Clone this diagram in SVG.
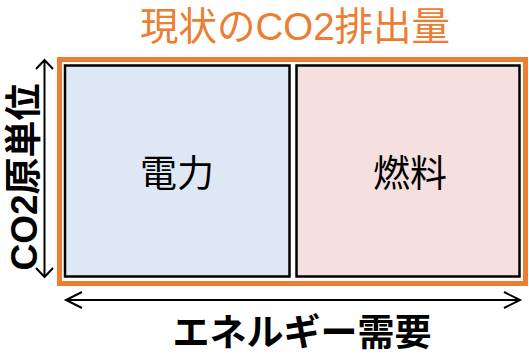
<svg xmlns="http://www.w3.org/2000/svg" width="529" height="354" viewBox="0 0 529 354">
<defs>
<style>
.t{font-family:"Liberation Sans","Noto Sans CJK JP",sans-serif;}
.box{stroke:#000;stroke-width:2.5;}
.ln{stroke:#000;stroke-width:2;fill:none;}
</style>
</defs>
<rect width="529" height="354" fill="#fff"/>
<text class="t" x="295" y="40" font-size="38.5" fill="#ED7D31" text-anchor="middle">現状のCO2排出量</text>
<g id="frame"><rect x="59.5" y="59.5" width="466" height="224" fill="none" stroke="#ED7D31" stroke-width="5"/></g>
<g id="power"><rect class="box" x="65" y="65.5" width="224.5" height="211" fill="#DEE8F4"/><text class="t" x="177" y="187" font-size="37" text-anchor="middle">電力</text></g>
<g id="fuel"><rect class="box" x="296.5" y="65.5" width="223" height="211" fill="#F5E0DF"/><text class="t" x="410" y="187" font-size="37" text-anchor="middle">燃料</text></g>
<g id="connectors">
<path class="ln" d="M44.5 60V277M36 69l8.5-9 8.5 9M36 268l8.5 9 8.5-9"/>
<path class="ln" d="M66 300H520M82 292l-16 8 16 8M504 292l16 8-16 8"/>
</g>
<text class="t" transform="translate(37,177) rotate(-90)" font-size="37" font-weight="bold" text-anchor="middle">CO2原単位</text>
<text class="t" x="302" y="346" font-size="37" font-weight="bold" text-anchor="middle">エネルギー需要</text>
</svg>
